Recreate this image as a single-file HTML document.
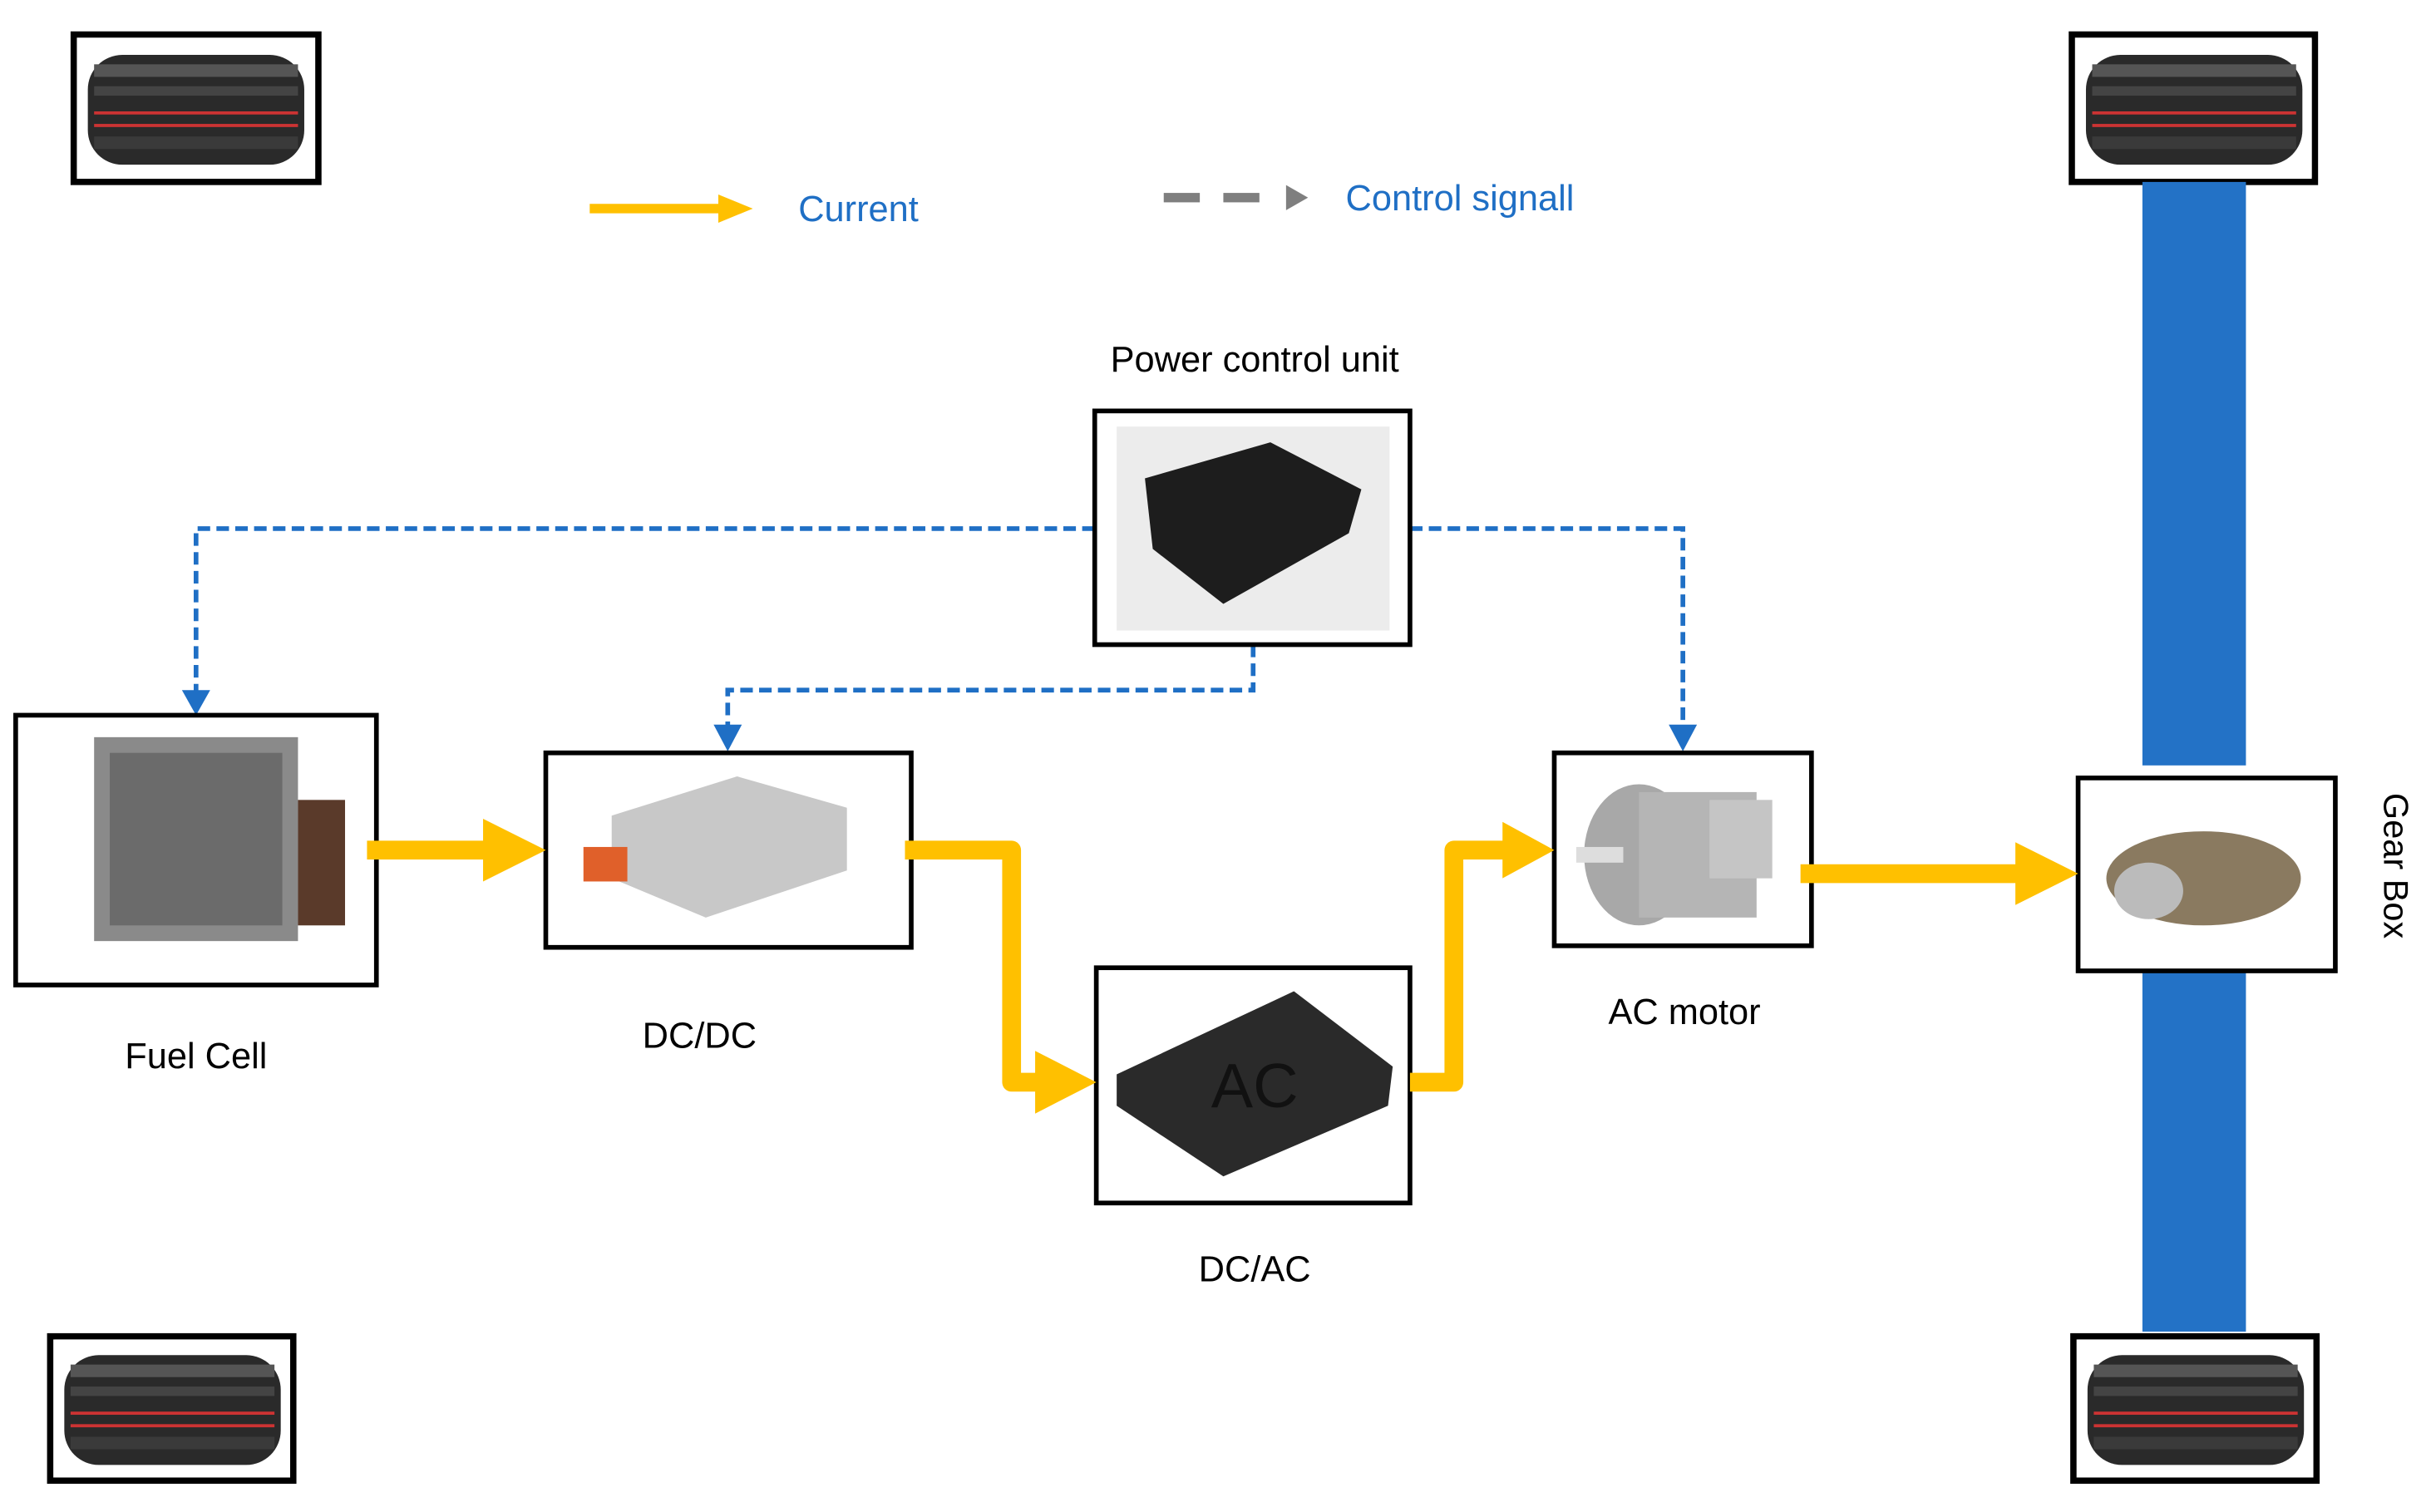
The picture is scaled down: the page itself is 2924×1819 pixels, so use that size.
<!DOCTYPE html>
<html><head><meta charset="utf-8"><style>
html,body{margin:0;padding:0;background:#fff;}
svg{display:block;}
text{font-family:"Liberation Sans",sans-serif;}
</style></head><body>
<svg width="2924" height="1819" viewBox="0 0 1550 964" preserveAspectRatio="none" xmlns="http://www.w3.org/2000/svg">
<defs>
<g id="tire">
<rect x="0" y="0" width="150" height="88" fill="#fff"/>
<rect x="6" y="10" width="138" height="70" rx="22" fill="#2a2a2a"/>
<rect x="10" y="16" width="130" height="8" fill="#555"/>
<rect x="10" y="30" width="130" height="6" fill="#444"/>
<rect x="10" y="46" width="130" height="2" fill="#c33"/>
<rect x="10" y="54" width="130" height="2" fill="#c33"/>
<rect x="10" y="62" width="130" height="8" fill="#3a3a3a"/>
</g>
</defs>
<rect x="47" y="22" width="156" height="94" fill="none" stroke="#000" stroke-width="4"/>
<use href="#tire" x="50" y="25"/>
<rect x="1321" y="22" width="155" height="94" fill="none" stroke="#000" stroke-width="4"/>
<use href="#tire" x="1324" y="25"/>
<rect x="32" y="852" width="155" height="92" fill="none" stroke="#000" stroke-width="4"/>
<use href="#tire" x="35" y="854"/>
<rect x="1322" y="852" width="155" height="92" fill="none" stroke="#000" stroke-width="4"/>
<use href="#tire" x="1325" y="854"/>
<rect x="1366" y="116" width="66" height="372" fill="#2372c6"/>
<rect x="1366" y="619" width="66" height="230" fill="#2372c6"/>
<rect x="1325" y="496" width="164" height="123" fill="#fff" stroke="#000" stroke-width="3"/>
<ellipse cx="1405" cy="560" rx="62" ry="30" fill="#8a7a60"/>
<ellipse cx="1370" cy="568" rx="22" ry="18" fill="#bbb"/>
<text x="1520" y="552" font-size="22" text-anchor="middle" transform="rotate(90 1520 552)">Gear Box</text>
<line x1="376" y1="133" x2="462" y2="133" stroke="#ffc000" stroke-width="6"/>
<path d="M458,124 L480,133 L458,142z" fill="#ffc000"/>
<text x="509" y="141" font-size="23" fill="#1f6fc5">Current</text>
<rect x="742" y="123" width="23" height="6" fill="#7f7f7f"/>
<rect x="780" y="123" width="23" height="6" fill="#7f7f7f"/>
<path d="M820,118 L834,126 L820,134z" fill="#7f7f7f"/>
<text x="858" y="134" font-size="23" fill="#1f6fc5">Control signall</text>
<g fill="none" stroke="#1f6fc5" stroke-width="3" stroke-dasharray="8,4">
<polyline points="698,337 125,337 125,442"/>
<polyline points="899,337 1073,337 1073,466"/>
<polyline points="799,411 799,440 464,440 464,466"/>
</g>
<path d="M116,440 L134,440 L125,456z" fill="#1f6fc5"/>
<path d="M1064,462 L1082,462 L1073,479z" fill="#1f6fc5"/>
<path d="M455,462 L473,462 L464,479z" fill="#1f6fc5"/>
<text x="800" y="237" font-size="23" text-anchor="middle">Power control unit</text>
<rect x="698" y="262" width="201" height="149" fill="#fff" stroke="#000" stroke-width="3"/>
<rect x="712" y="272" width="174" height="130" fill="#ececec"/>
<path d="M730,305 L810,282 L868,312 L860,340 L780,385 L735,350z" fill="#1d1d1d"/>
<rect x="10" y="456" width="230" height="172" fill="#fff" stroke="#000" stroke-width="3"/>
<rect x="60" y="470" width="130" height="130" fill="#8a8a8a"/>
<rect x="70" y="480" width="110" height="110" fill="#6b6b6b"/>
<rect x="190" y="510" width="30" height="80" fill="#5a3a2a"/>
<text x="125" y="681" font-size="23" text-anchor="middle">Fuel Cell</text>
<rect x="348" y="480" width="233" height="124" fill="#fff" stroke="#000" stroke-width="3"/>
<path d="M390,520 L470,495 L540,515 L540,555 L450,585 L390,560z" fill="#c8c8c8"/>
<rect x="372" y="540" width="28" height="22" fill="#e0602a"/>
<text x="446" y="668" font-size="23" text-anchor="middle">DC/DC</text>
<rect x="699" y="617" width="200" height="150" fill="#fff" stroke="#000" stroke-width="3"/>
<path d="M712,685 L825,632 L888,680 L885,705 L780,750 L712,705z" fill="#2a2a2a"/>
<text x="800" y="706" font-size="40" text-anchor="middle" fill="#111">AC</text>
<text x="800" y="817" font-size="23" text-anchor="middle">DC/AC</text>
<rect x="991" y="480" width="164" height="123" fill="#fff" stroke="#000" stroke-width="3"/>
<ellipse cx="1045" cy="545" rx="35" ry="45" fill="#a8a8a8"/>
<rect x="1045" y="505" width="75" height="80" fill="#b5b5b5"/>
<rect x="1090" y="510" width="40" height="50" fill="#c5c5c5"/>
<rect x="1005" y="540" width="30" height="10" fill="#ddd"/>
<text x="1074" y="653" font-size="23" text-anchor="middle">AC motor</text>
<g fill="none" stroke="#ffc000" stroke-width="12" stroke-linejoin="round">
<line x1="234" y1="542" x2="312" y2="542"/>
<polyline points="577,542 645,542 645,690 665,690"/>
<polyline points="899,690 927,690 927,542 962,542"/>
<line x1="1148" y1="557" x2="1290" y2="557"/>
</g>
<path d="M308,522 L348,542 L308,562z" fill="#ffc000"/>
<path d="M660,670 L699,690 L660,710z" fill="#ffc000"/>
<path d="M958,524 L991,542 L958,560z" fill="#ffc000"/>
<path d="M1285,537 L1325,557 L1285,577z" fill="#ffc000"/>
</svg>
</body></html>
